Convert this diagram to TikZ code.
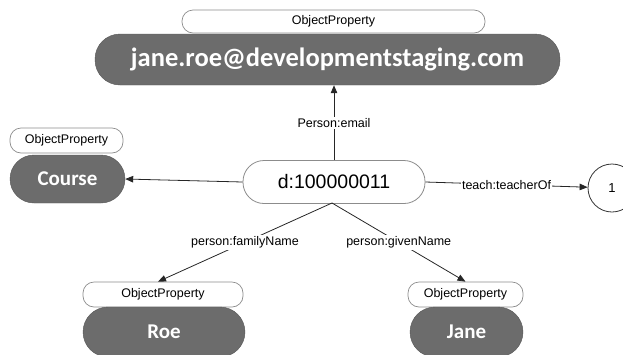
\documentclass[tikz,border=0pt]{standalone}
\usepackage{fontspec}
\setmainfont{Liberation Sans}
\newfontfamily\valuefont{Carlito}
\usetikzlibrary{arrows.meta}
\definecolor{valgray}{RGB}{108,108,108}
\definecolor{boxline}{RGB}{140,140,140}
\tikzset{
  proptag/.style={draw=boxline, line width=0.7pt, fill=white, rounded corners=11pt,
    font=\fontsize{12.5}{12.5}\selectfont, inner sep=0pt},
  valuebox/.style={fill=valgray, draw=valgray!80!black, line width=0.4pt, text=white,
    inner sep=0pt, font=\valuefont\bfseries\fontsize{21}{21}\selectfont},
  subject/.style={draw=boxline, line width=0.8pt, fill=white, rounded corners=21pt,
    minimum width=182pt, minimum height=43pt, inner sep=0pt,
    font=\fontsize{19.5}{19.5}\selectfont},
  literal/.style={circle, draw=black!80, line width=0.8pt, minimum size=48pt, inner sep=0pt,
    font=\fontsize{13}{13}\selectfont},
  rel/.style={draw=black!85, line width=0.8pt, -{Triangle[length=8pt,width=6.5pt]}},
  rellabel/.style={fill=white, inner sep=1.5pt, font=\fontsize{12.5}{12.5}\selectfont}
}
\begin{document}
\begin{tikzpicture}[x=1pt, y=-1pt]
  \useasboundingbox (0,0) rectangle (623,354);

  % email value with its type tag
  \node[proptag, minimum width=303pt, minimum height=23pt] (opEmail) at (333.5,21.5) {ObjectProperty};
  \node[valuebox, rounded corners=25pt, minimum width=465pt, minimum height=51pt,
        font=\valuefont\bfseries\fontsize{26.5}{26.5}\selectfont] (email) at (327.5,59.5)
        {jane.roe@developmentstaging.com};

  % course value
  \node[proptag, minimum width=113pt, minimum height=25pt] (opCourse) at (66.5,140.5) {ObjectProperty};
  \node[valuebox, rounded corners=24pt, minimum width=115pt, minimum height=48pt] (course) at (67.5,179) {Course};

  % subject node
  \node[subject] (d) at (334,182) {d:100000011};
  \coordinate (dbase) at (332,203);

  % literal
  \node[literal] (one) at (612,188) {1};

  % family name
  \node[proptag, minimum width=160pt, minimum height=25pt] (opRoe) at (163,294.5) {ObjectProperty};
  \node[valuebox, rounded corners=25pt, minimum width=162pt, minimum height=50pt] (roe) at (164,332) {Roe};

  % given name
  \node[proptag, minimum width=115pt, minimum height=25pt] (opJane) at (465.5,294.5) {ObjectProperty};
  \node[valuebox, rounded corners=25pt, minimum width=113pt, minimum height=50pt] (jane) at (466.5,332) {Jane};

  % relations
  \draw[rel] (d.north) -- node[rellabel] {Person:email} (d.north |- email.south);
  \draw[rel] (d.west) -- (course.east);
  \draw[rel] (d.east) -- node[rellabel] {teach:teacherOf} (one);
  \draw[rel] (dbase) -- node[rellabel] {person:familyName} ([xshift=-5pt]opRoe.north);
  \draw[rel] (dbase) -- node[rellabel] {person:givenName} (opJane.north);
\end{tikzpicture}
\end{document}
